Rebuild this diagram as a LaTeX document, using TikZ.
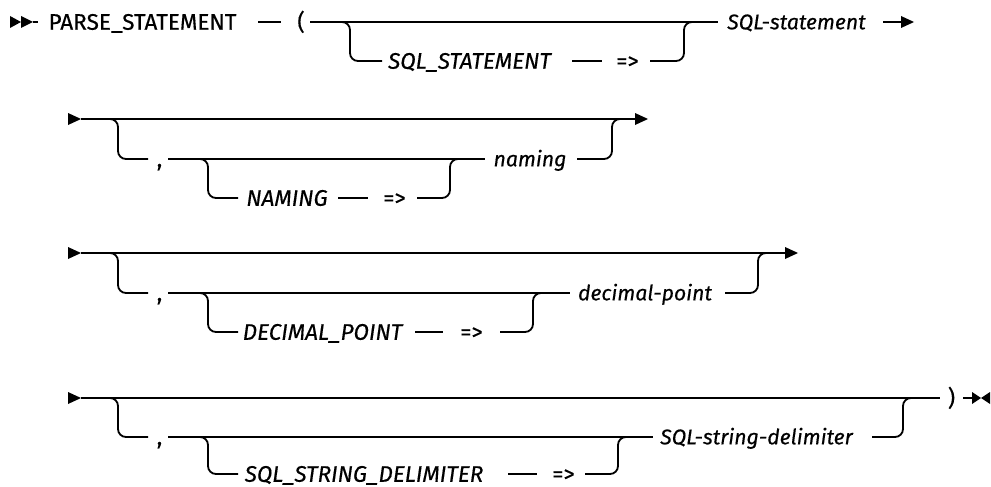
\documentclass[tikz,border=0pt]{standalone}
\usepackage{fontspec}
\setmainfont{Fira Sans}
\newfontfamily\railfont{Fira Sans}[FakeBold=0.4]
\begin{document}
\begin{tikzpicture}[x=1pt,y=-1pt,
  rail/.style={line width=1.8pt, rounded corners=8pt},
  txt/.style={inner sep=0pt, text height=15.5pt, text depth=0pt, font=\railfont\fontsize{22.5}{24}\selectfont},
  kw/.style={txt},
  var/.style={txt, font=\railfont\fontsize{22.5}{24}\selectfont\itshape},
  lvar/.style={txt, text height=14.6pt, font=\railfont\fontsize{21.2}{24}\selectfont\itshape}]
\useasboundingbox (0,0) rectangle (991,487);

% ---------- Row 1 ----------
\coordinate (r1s) at (33,22);
\fill (10,16) -- (21,22) -- (10,28) -- cycle;
\fill (21,16) -- (33,22) -- (21,28) -- cycle;
\coordinate (r1a) at (38,22);
\draw[rail] (r1s) -- (r1a);
\node[kw] (parse) at (142.5,22) {PARSE\_STATEMENT};
\coordinate (r1b) at (258,22); \coordinate (r1c) at (281,22);
\draw[rail] (r1b) -- (r1c);
\node[kw] (lpar) at (301,22) {(};
\coordinate (r1d) at (310,22); \coordinate (r1e) at (718,22);
\draw[rail] (r1d) -- (r1e);
\coordinate (r1f) at (338,22); \coordinate (r1g) at (382,61);
\draw[rail] (r1f) -| (r1g -| 350,0) -- (r1g);
\node[var] (sqlkw) at (469.5,61) {SQL\_STATEMENT};
\coordinate (r1h) at (572,61); \coordinate (r1i) at (602,61);
\draw[rail] (r1h) -- (r1i);
\node[kw] (arr1) at (627.5,61) {=>};
\coordinate (r1j) at (650,61); \coordinate (r1k) at (696,22);
\draw[rail] (r1j) -| (684,22) -- (r1k);
\node[lvar] (sqlstmt) at (796.5,22) {SQL-statement};
\coordinate (r1l) at (883,22); \coordinate (r1m) at (901,22);
\draw[line width=1.8pt] (r1l) -- (r1m);
\fill (901,16) -- (914,22) -- (901,28) -- cycle;

% ---------- Row 2 ----------
\fill (68,113) -- (81,119) -- (68,125) -- cycle;
\coordinate (r2s) at (81,119); \coordinate (r2e) at (636,119);
\draw[line width=1.8pt] (r2s) -- (r2e);
\fill (635,113) -- (648,119) -- (635,125) -- cycle;
\coordinate (r2a) at (106,119); \coordinate (r2b) at (148,159);
\draw[rail] (r2a) -| (118,159) -- (r2b);
\node[kw] (c2) at (159.5,159) {,};
\coordinate (r2c) at (168,159); \coordinate (r2d) at (485,159);
\draw[rail] (r2c) -- (r2d);
\coordinate (r2f) at (196,159); \coordinate (r2g) at (238,198);
\draw[rail] (r2f) -| (208,198) -- (r2g);
\node[var] (namkw) at (287,198) {NAMING};
\coordinate (r2h) at (338,198); \coordinate (r2i) at (368,198);
\draw[rail] (r2h) -- (r2i);
\node[kw] (arr2) at (394.5,198) {=>};
\coordinate (r2j) at (417,198); \coordinate (r2k) at (462,159);
\draw[rail] (r2j) -| (450,159) -- (r2k);
\node[lvar] (naming) at (530,159) {naming};
\coordinate (r2l) at (577,159); \coordinate (r2m) at (624,119);
\draw[rail] (r2l) -| (612,119) -- (r2m);

% ---------- Row 3 ----------
\fill (68,247) -- (81,253) -- (68,259) -- cycle;
\coordinate (r3s) at (81,253); \coordinate (r3e) at (786,253);
\draw[line width=1.8pt] (r3s) -- (r3e);
\fill (785,247) -- (798,253) -- (785,259) -- cycle;
\coordinate (r3a) at (106,253); \coordinate (r3b) at (148,293);
\draw[rail] (r3a) -| (118,293) -- (r3b);
\node[kw] (c3) at (159.5,293) {,};
\coordinate (r3c) at (168,293); \coordinate (r3d) at (570,293);
\draw[rail] (r3c) -- (r3d);
\coordinate (r3f) at (196,293); \coordinate (r3g) at (238,332);
\draw[rail] (r3f) -| (208,332) -- (r3g);
\node[var] (deckw) at (322.5,332) {DECIMAL\_POINT};
\coordinate (r3h) at (415,332); \coordinate (r3i) at (443,332);
\draw[rail] (r3h) -- (r3i);
\node[kw] (arr3) at (471.5,332) {=>};
\coordinate (r3j) at (500,332); \coordinate (r3k) at (545,293);
\draw[rail] (r3j) -| (533,293) -- (r3k);
\node[lvar] (decpt) at (645,293) {decimal-point};
\coordinate (r3l) at (725,293); \coordinate (r3m) at (770,253);
\draw[rail] (r3l) -| (758,253) -- (r3m);

% ---------- Row 4 ----------
\fill (68,392) -- (81,398) -- (68,404) -- cycle;
\coordinate (r4s) at (81,398); \coordinate (r4e) at (940,398);
\draw[line width=1.8pt] (r4s) -- (r4e);
\coordinate (r4a) at (106,398); \coordinate (r4b) at (148,437);
\draw[rail] (r4a) -| (118,437) -- (r4b);
\node[kw] (c4) at (159.5,437) {,};
\coordinate (r4c) at (168,437); \coordinate (r4d) at (653,437);
\draw[rail] (r4c) -- (r4d);
\coordinate (r4f) at (196,437); \coordinate (r4g) at (238,474);
\draw[rail] (r4f) -| (208,474) -- (r4g);
\node[var] (sdkw) at (364,474) {SQL\_STRING\_DELIMITER};
\coordinate (r4h) at (508,474); \coordinate (r4i) at (537,474);
\draw[rail] (r4h) -- (r4i);
\node[kw] (arr4) at (563.5,474) {=>};
\coordinate (r4j) at (585,474); \coordinate (r4k) at (630,437);
\draw[rail] (r4j) -| (618,437) -- (r4k);
\node[lvar] (sdel) at (756.5,437) {SQL-string-delimiter};
\coordinate (r4l) at (872,437); \coordinate (r4m) at (915,398);
\draw[rail] (r4l) -| (903,398) -- (r4m);
\node[kw] (rpar) at (951.5,398) {)};
\coordinate (r4n) at (963,398); \coordinate (r4o) at (973,398);
\draw[line width=1.8pt] (r4n) -- (r4o);
\fill (972,392) -- (981,398) -- (972,404) -- cycle;
\fill (990,392) -- (981,398) -- (990,404) -- cycle;
\end{tikzpicture}
\end{document}
